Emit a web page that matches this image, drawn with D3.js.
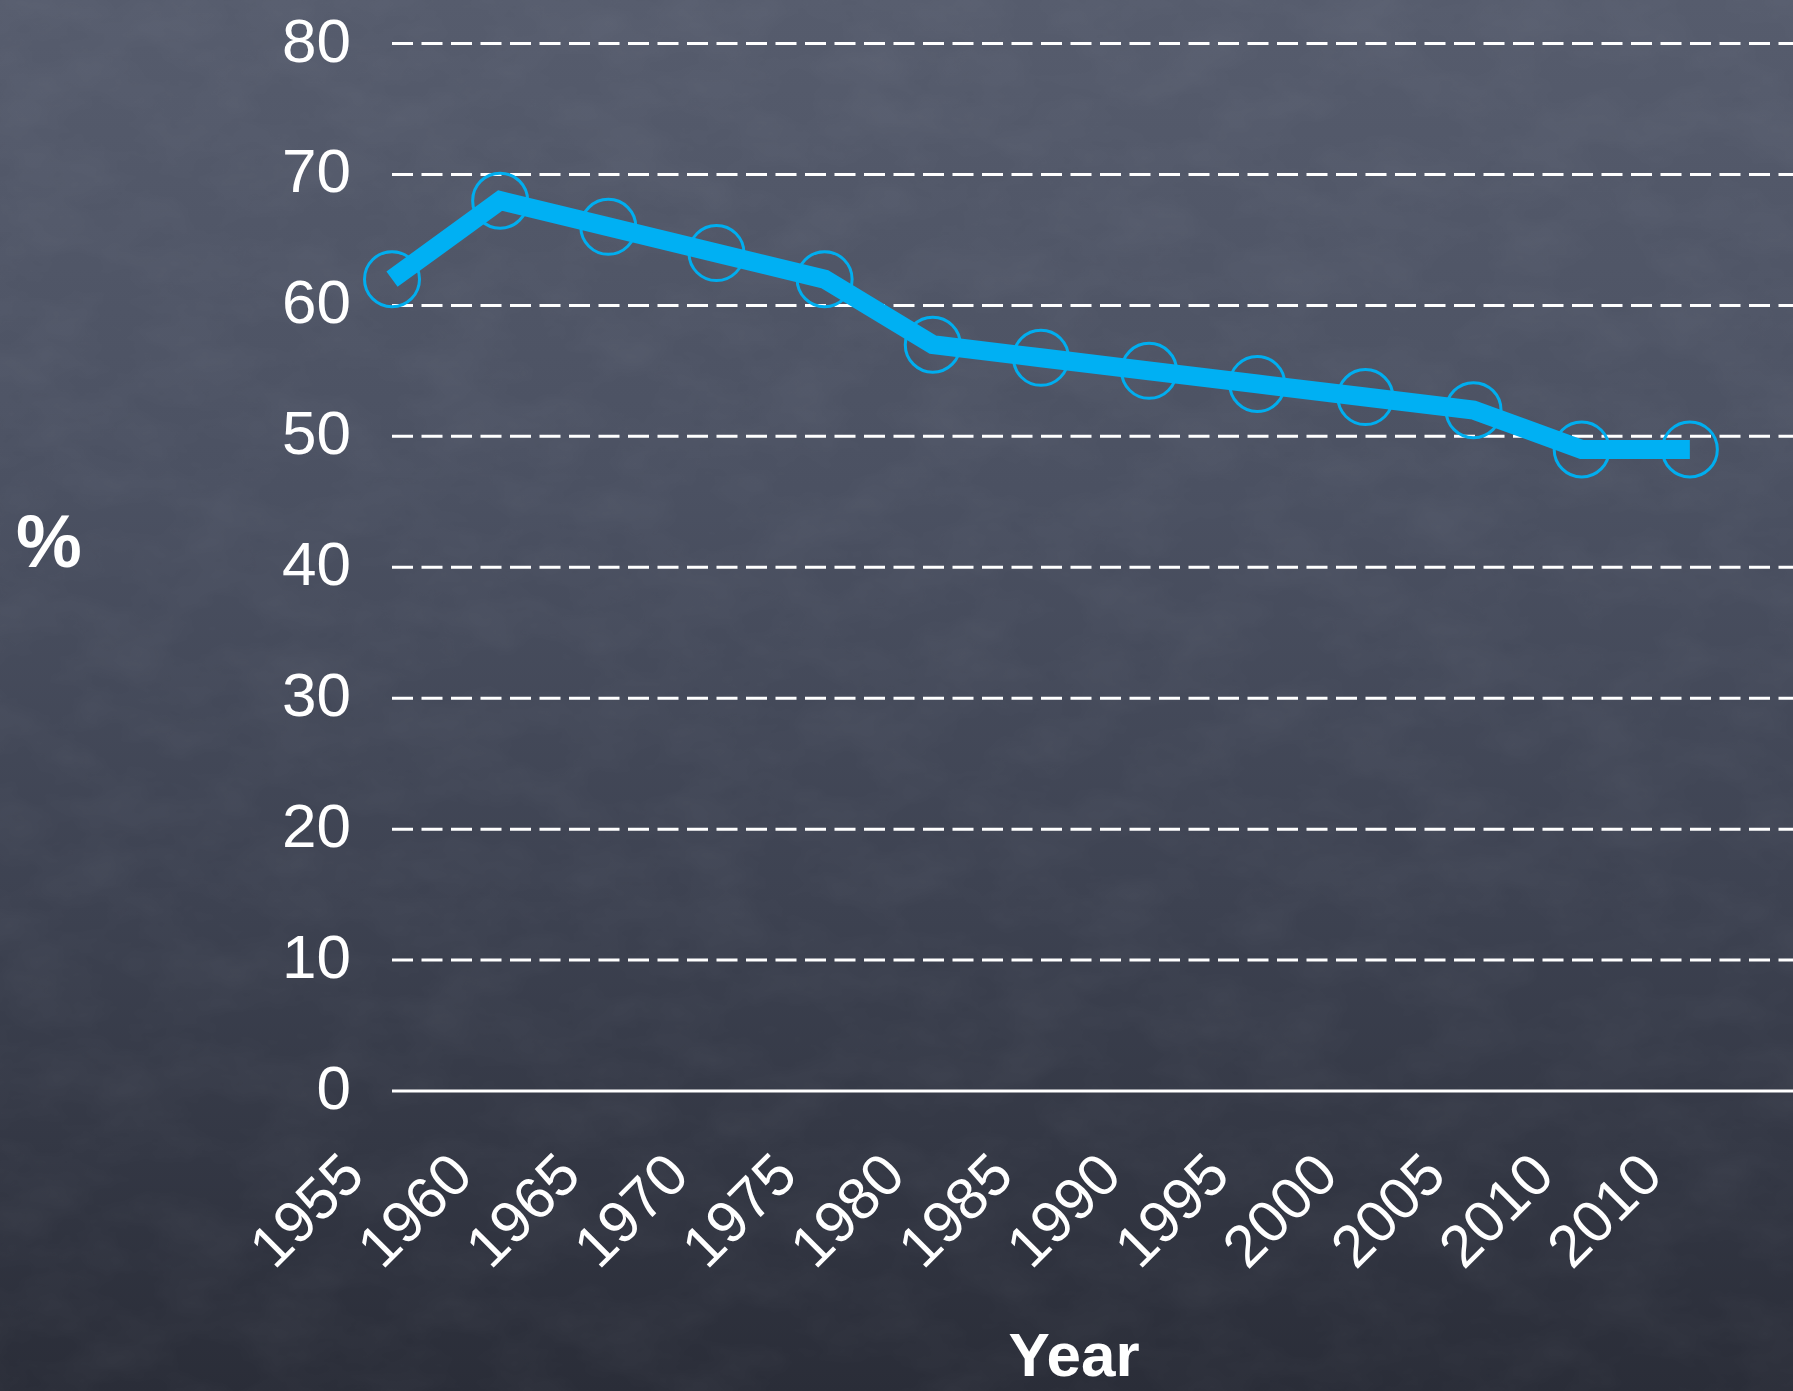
<!DOCTYPE html>
<html>
<head>
<meta charset="utf-8">
<script src="https://cdn.jsdelivr.net/npm/d3@7/dist/d3.min.js"></script>
<style>
  html, body { margin: 0; padding: 0; background: #3f4452; }
  svg { display: block; }
  text { font-family: "Liberation Sans", Arial, Helvetica, sans-serif; fill: #ffffff; }
</style>
</head>
<body>
<svg id="chart" width="1793" height="1391"></svg>
<script>
// ---- data ----
const categories = ["1955","1960","1965","1970","1975","1980","1985","1990","1995","2000","2005","2010","2010"];
const values = [62, 68, 66, 64, 62, 57, 56, 55, 54, 53, 52, 49, 49];
const yTicks = [0, 10, 20, 30, 40, 50, 60, 70, 80];
const yTitle = "%";
const xTitle = "Year";

const W = 1793, H = 1391;
const svg = d3.select("#chart");

// ---- background (chalkboard) ----
const defs = svg.append("defs");
const bg = defs.append("linearGradient").attr("id", "bg").attr("x1", 0).attr("y1", 0).attr("x2", 0).attr("y2", 1);
bg.append("stop").attr("offset", "0%").attr("stop-color", "#565c6d");
bg.append("stop").attr("offset", "35%").attr("stop-color", "#4b5162");
bg.append("stop").attr("offset", "65%").attr("stop-color", "#3d4251");
bg.append("stop").attr("offset", "100%").attr("stop-color", "#2a2d38");
const f = defs.append("filter").attr("id", "chalk").attr("x", 0).attr("y", 0).attr("width", "100%").attr("height", "100%");
f.append("feTurbulence").attr("type", "fractalNoise").attr("baseFrequency", "0.012 0.02").attr("numOctaves", 4).attr("seed", 7).attr("result", "n");
f.append("feColorMatrix").attr("in", "n").attr("type", "matrix")
  .attr("values", "0 0 0 0 0.85  0 0 0 0 0.88  0 0 0 0 0.95  0.6 0 0 0 -0.2");
svg.append("rect").attr("width", W).attr("height", H).attr("fill", "url(#bg)");
svg.append("rect").attr("width", W).attr("height", H).attr("filter", "url(#chalk)").attr("opacity", 0.12);

// ---- scales ----
const x = d3.scaleBand().domain(d3.range(categories.length)).range([392, 1798]).paddingInner(0).paddingOuter(0);
const y = d3.scaleLinear().domain([0, 80]).range([1091, 43.5]);
const px = i => x(i);

// ---- grid ----
svg.append("g").selectAll("line.grid").data(yTicks.filter(t => t !== 0)).join("line")
  .attr("class", "grid")
  .attr("x1", x.range()[0]).attr("x2", x.range()[1])
  .attr("y1", d => y(d)).attr("y2", d => y(d))
  .attr("stroke", "#ffffff").attr("stroke-width", 3)
  .attr("stroke-dasharray", "21 8.5");

// baseline axis
svg.append("line")
  .attr("x1", x.range()[0]).attr("x2", x.range()[1])
  .attr("y1", y(0)).attr("y2", y(0))
  .attr("stroke", "#ffffff").attr("stroke-width", 3);

// ---- y tick labels ----
svg.append("g").selectAll("text").data(yTicks).join("text")
  .attr("x", 351).attr("y", d => y(d) + 18)
  .attr("text-anchor", "end")
  .attr("font-size", 62)
  .text(d => d);

// ---- x tick labels ----
svg.append("g").selectAll("text").data(categories).join("text")
  .attr("transform", (d, i) => `translate(${px(i) - 25},1178) rotate(-45)`)
  .attr("text-anchor", "end")
  .attr("font-size", 59)
  .text(d => d);

// ---- axis titles ----
svg.append("text").attr("x", 49).attr("y", 567).attr("text-anchor", "middle")
  .attr("font-size", 74).attr("font-weight", "bold").text(yTitle);
svg.append("text").attr("x", 1074).attr("y", 1376).attr("text-anchor", "middle")
  .attr("font-size", 62).attr("font-weight", "bold").text(xTitle);

// ---- markers ----
svg.append("g").selectAll("circle").data(values).join("circle")
  .attr("cx", (d, i) => px(i)).attr("cy", d => y(d)).attr("r", 27.5)
  .attr("fill", "none").attr("stroke", "#00aeef").attr("stroke-width", 3);

// ---- line ----
const line = d3.line().x((d, i) => px(i)).y(d => y(d));
svg.append("path").datum(values)
  .attr("d", line)
  .attr("fill", "none").attr("stroke", "#00b0f3")
  .attr("stroke-width", 19).attr("stroke-linejoin", "miter").attr("stroke-linecap", "butt");
</script>
</body>
</html>
